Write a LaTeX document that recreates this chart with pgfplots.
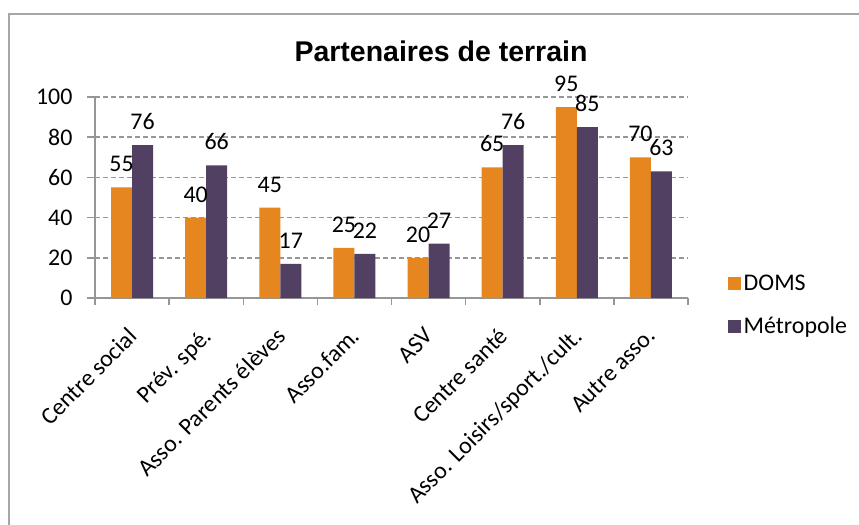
\documentclass[border=0pt]{standalone}
\usepackage{fontspec}
\setmainfont{Carlito}
\newfontfamily\titlefont{Liberation Sans}
\usepackage{pgfplots}
\pgfplotsset{compat=1.18}
\definecolor{doms}{RGB}{230,134,30}
\definecolor{metro}{RGB}{82,64,98}
\definecolor{gridgray}{RGB}{150,150,150}
\definecolor{framegray}{RGB}{166,166,166}
\begin{document}
\begin{tikzpicture}[x=1bp,y=1bp]
\useasboundingbox (0,0) rectangle (859,-525);
\clip (0,0) rectangle (859,-525);
\draw[framegray, line width=2.2bp] (9,-14) rectangle (900,-600);
\node[font=\titlefont\bfseries\fontsize{28.6}{30}\selectfont, anchor=base] at (441,-62) {Partenaires de terrain};
\begin{axis}[
  at={(95bp,-298bp)}, anchor=south west,
  scale only axis, width=593bp, height=201bp,
  ymin=0, ymax=100, xmin=-0.5, xmax=7.5,
  clip=false,
  /pgf/number format/assume math mode=true,
  axis x line*=bottom, axis y line*=left,
  axis line style={gridgray, line width=1.5bp},
  ytick={0,20,...,100},
  ymajorgrids,
  major grid style={gridgray, dash pattern=on 5bp off 3bp, line width=1.6bp},
  tick align=outside,
  major tick length=8bp,
  y tick style={gridgray, line width=1.5bp},
  xtick={0,...,7},
  xticklabels={Centre social, Prév. spé., Asso. Parents élèves, Asso.fam., ASV, Centre santé, Asso. Loisirs/sport./cult., Autre asso.},
  major x tick style={draw=none},
  minor xtick={-0.5,0.5,...,7.5},
  minor x tick style={gridgray, line width=1.5bp},
  minor tick length=7bp,
  xticklabel style={xshift=-5bp, yshift=-20bp, rotate=45, anchor=north east, inner sep=0pt, font=\fontsize{24}{26}\selectfont},
  yticklabel style={xshift=-11bp, font=\fontsize{24}{26}\selectfont},
  ybar, bar width=0.283,
  nodes near coords,
  every node near coord/.append style={font=\fontsize{24}{26}\selectfont, anchor=base, yshift=15.5bp, text=black},
  legend style={draw=none, fill=none, at={(1.0675,0.128)}, anchor=north west, inner sep=0pt, row sep=20bp, font=\fontsize{24}{26}\selectfont, nodes={inner sep=2.5bp}},
  legend cell align=left,
  legend image code/.code={\fill[#1] (0bp,-6.5bp) rectangle (13bp,6.5bp);},
]
\addplot[fill=doms, draw=none, bar shift=-0.1415] coordinates {(0,55) (1,40) (2,45) (3,25) (4,20) (5,65) (6,95) (7,70)};
\addplot[fill=metro, draw=none, bar shift=0.1415] coordinates {(0,76) (1,66) (2,17) (3,22) (4,27) (5,76) (6,85) (7,63)};
\legend{DOMS, Métropole}
\end{axis}
\end{tikzpicture}
\end{document}
